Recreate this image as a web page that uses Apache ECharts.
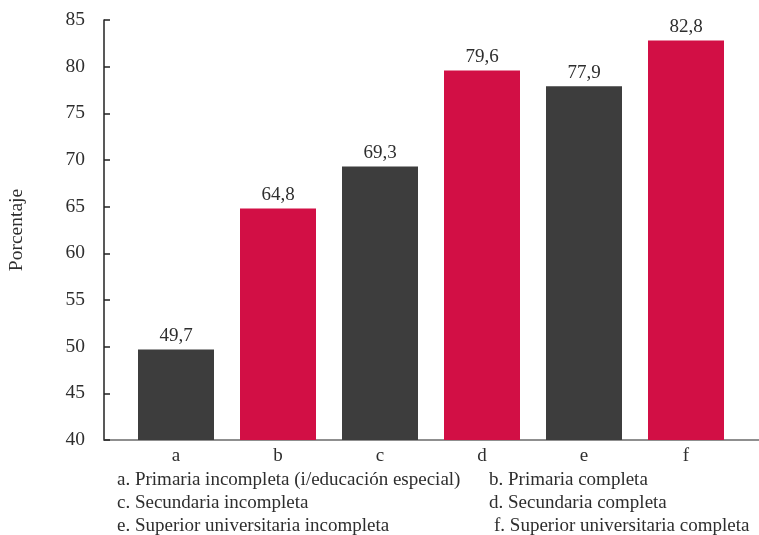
<!DOCTYPE html>
<html>
<head>
<meta charset="utf-8">
<script src="https://cdn.jsdelivr.net/npm/echarts@6/dist/echarts.min.js"></script>
<style>html,body{margin:0;padding:0;background:#fff}#c{width:759px;height:535px}</style>
</head>
<body>
<div id="c"></div>
<script>
var categories = ['a', 'b', 'c', 'd', 'e', 'f'];
var values = [49.7, 64.8, 69.3, 79.6, 77.9, 82.8];
var barColors = ['#3d3d3d', '#d20f45', '#3d3d3d', '#d20f45', '#3d3d3d', '#d20f45'];
var yTicks = { min: 40, max: 85, interval: 5 };
var yName = 'Porcentaje';
var notes = [
  'a. Primaria incompleta (i/educación especial)',
  'b. Primaria completa',
  'c. Secundaria incompleta',
  'd. Secundaria completa',
  'e. Superior universitaria incompleta',
  'f. Superior universitaria completa'
];

var FONT = '"Liberation Serif", "DejaVu Serif", serif';
var TXT = '#2e2e2e';
var noteLeft = [117, 489, 117, 489, 117, 494];
var noteTop = [471, 471, 494, 494, 517, 517];

var chart = echarts.init(document.getElementById('c'), null, { renderer: 'canvas' });
chart.setOption({
  animation: false,
  textStyle: { fontFamily: FONT },
  title: notes.map(function (t, i) {
    return { text: t, left: noteLeft[i], top: noteTop[i], padding: 0,
      textStyle: { fontFamily: FONT, fontWeight: 'normal', fontSize: 19, color: TXT } };
  }),
  grid: [
    { left: 104, right: 0, top: 20, bottom: 95, containLabel: false, outerBoundsMode: 'none' },
    { left: 125, right: 22, top: 20, bottom: 95, containLabel: false, outerBoundsMode: 'none' }
  ],
  xAxis: [
    { type: 'category', gridIndex: 0, data: [''],
      axisLine: { show: true, lineStyle: { color: '#6b6b6b', width: 1.5 } },
      axisTick: { show: false }, axisLabel: { show: false }, splitLine: { show: false } },
    { type: 'category', gridIndex: 1, data: categories,
      axisLine: { show: false }, axisTick: { show: false },
      axisLabel: { fontFamily: FONT, fontSize: 19, color: TXT, margin: 7 } }
  ],
  yAxis: [
    { type: 'value', gridIndex: 0, min: yTicks.min, max: yTicks.max, interval: yTicks.interval,
      name: yName, nameLocation: 'middle', nameGap: 77, nameRotate: 90,
      nameTextStyle: { fontFamily: FONT, fontSize: 19.5, color: TXT },
      axisLine: { show: true, lineStyle: { color: '#222', width: 1.5 } },
      axisTick: { show: true, inside: true, length: 6, lineStyle: { color: '#222', width: 1.5 } },
      axisLabel: { fontFamily: FONT, fontSize: 19.5, color: TXT, margin: 19 },
      splitLine: { show: false } },
    { type: 'value', gridIndex: 1, min: yTicks.min, max: yTicks.max, interval: yTicks.interval,
      show: false, splitLine: { show: false } }
  ],
  series: [{
    type: 'bar',
    xAxisIndex: 1, yAxisIndex: 1,
    barWidth: 76,
    data: values.map(function (v, i) { return { value: v, itemStyle: { color: barColors[i] } }; }),
    label: {
      show: true, position: 'top', distance: 4,
      fontFamily: FONT, fontSize: 19, color: TXT,
      formatter: function (p) { return p.value.toFixed(1).replace('.', ','); }
    }
  }]
});
</script>
</body>
</html>
